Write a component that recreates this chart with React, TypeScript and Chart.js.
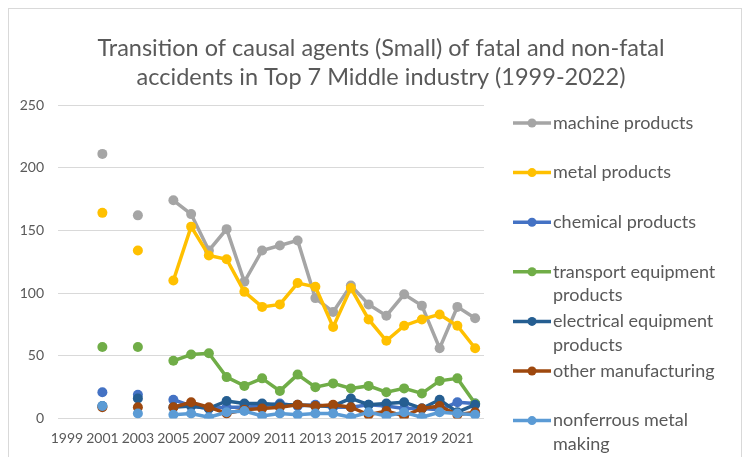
import React, { useEffect, useRef } from "react";
import { Chart, registerables } from "chart.js";

Chart.register(...registerables);

const years = [
  "1999", "2000", "2001", "2002", "2003", "2004", "2005", "2006", "2007", "2008", "2009", "2010",
  "2011", "2012", "2013", "2014", "2015", "2016", "2017", "2018", "2019", "2020", "2021", "2022",
];

const machineProducts = [null, null, 211, null, 162, null, 174, 163, 134, 151, 109, 134, 138, 142, 96, 85, 106, 91, 82, 99, 90, 56, 89, 80];
const metalProducts = [null, null, 164, null, 134, null, 110, 153, 130, 127, 101, 89, 91, 108, 105, 73, 104, 79, 62, 74, 79, 83, 74, 56];
const chemicalProducts = [null, null, 21, null, 19, null, 15, 10, 8, 9, 9, 10, 12, 10, 11, 9, 9, 11, 10, 8, 8, 7, 13, 12];
const transportEquipment = [null, null, 57, null, 57, null, 46, 51, 52, 33, 26, 32, 22, 35, 25, 28, 24, 26, 21, 24, 20, 30, 32, 12];
const electricalEquipment = [null, null, 10, null, 16, null, 9, 10, 8, 14, 12, 12, 11, 11, 10, 10, 16, 11, 12, 13, 8, 15, 5, 11];
const otherManufacturing = [null, null, 9, null, 9, null, 9, 13, 9, 4, 7, 8, 9, 11, 10, 11, 9, 3, 6, 2, 8, 10, 3, 5];
const nonferrousMetal = [null, null, 10, null, 4, null, 3, 4, 1, 5, 6, 2, 4, 3, 4, 4, 1, 5, 2, 5, 1, 5, 4, 3];

const seriesNames = [
  ["machine products"],
  ["metal products"],
  ["chemical products"],
  ["transport equipment", "products"],
  ["electrical equipment", "products"],
  ["other manufacturing"],
  ["nonferrous metal", "making"],
];
const seriesData = [
  machineProducts, metalProducts, chemicalProducts, transportEquipment,
  electricalEquipment, otherManufacturing, nonferrousMetal,
];
const seriesColors = ["#A5A5A5", "#FFC000", "#4472C4", "#70AD47", "#255E91", "#9E480E", "#5B9BD5"];

const yTicks = [0, 50, 100, 150, 200, 250];
const titleLines = [
  "Transition of causal agents (Small) of fatal and non-fatal",
  "accidents in Top 7 Middle industry (1999-2022)",
];

const TEXT = "#595959";
const FONT = "Lato, 'Open Sans', sans-serif";

const decorPlugin = {
  id: "decor",
  afterDraw(chart: any) {
    const ctx = chart.ctx;
    ctx.save();
    // border
    ctx.strokeStyle = "#D9D9D9";
    ctx.lineWidth = 1;
    ctx.strokeRect(8.5, 8.5, 733, 460);
    // title
    ctx.fillStyle = TEXT;
    ctx.font = `23.5px ${FONT}`;
    ctx.textAlign = "center";
    ctx.textBaseline = "middle";
    ctx.fillText(titleLines[0], 381, 48);
    ctx.fillText(titleLines[1], 381, 77);
    // legend
    ctx.font = `18px ${FONT}`;
    ctx.textAlign = "left";
    let y = 123;
    seriesNames.forEach((lines, i) => {
      ctx.strokeStyle = seriesColors[i];
      ctx.lineWidth = 3.5;
      ctx.beginPath();
      ctx.moveTo(513, y);
      ctx.lineTo(551, y);
      ctx.stroke();
      ctx.fillStyle = seriesColors[i];
      ctx.beginPath();
      ctx.arc(532, y, 4.5, 0, Math.PI * 2);
      ctx.fill();
      ctx.fillStyle = TEXT;
      lines.forEach((t, k) => ctx.fillText(t, 553, y + k * 23.5));
      y += 49.6;
    });
    ctx.restore();
  },
};

export default function App() {
  const ref = useRef<HTMLCanvasElement>(null);
  useEffect(() => {
    document.body.style.margin = "0";
    const chart = new Chart(ref.current!, {
      type: "line",
      data: {
        labels: years,
        datasets: seriesData.map((d, i) => ({
          label: seriesNames[i].join(" "),
          data: d,
          borderColor: seriesColors[i],
          backgroundColor: seriesColors[i],
          borderWidth: 3.5,
          pointRadius: 5,
          pointBorderWidth: 0,
          pointHoverRadius: 5,
          spanGaps: false,
          tension: 0,
          order: 7 - i,
        })),
      },
      options: {
        responsive: false,
        animation: false,
        events: [],
        layout: { padding: { left: 0, right: 259, top: 105, bottom: 0 } },
        plugins: { legend: { display: false }, title: { display: false }, tooltip: { enabled: false } },
        scales: {
          x: {
            offset: true,
            grid: { display: false, drawTicks: false },
            border: { display: false },
            ticks: {
              autoSkip: false,
              maxRotation: 0,
              padding: 12,
              color: TEXT,
              font: { family: FONT, size: 14 },
              callback: (_v: any, i: number) => (i % 2 === 0 ? years[i] : ""),
            },
            afterFit: (s: any) => { s.height = 38.5; },
          },
          y: {
            min: 0,
            max: 250,
            afterBuildTicks: (s: any) => { s.ticks = yTicks.map((v) => ({ value: v })); },
            grid: { color: "#D9D9D9", lineWidth: 1, drawTicks: false },
            border: { display: false },
            ticks: { padding: 14, color: TEXT, font: { family: FONT, size: 14 } },
            afterFit: (s: any) => { s.width = 58; },
          },
        },
      },
      plugins: [decorPlugin],
    });
    return () => chart.destroy();
  }, []);
  return (
    <div style={{ width: 743, height: 457 }}>
      <canvas ref={ref} width={743} height={457} />
    </div>
  );
}
